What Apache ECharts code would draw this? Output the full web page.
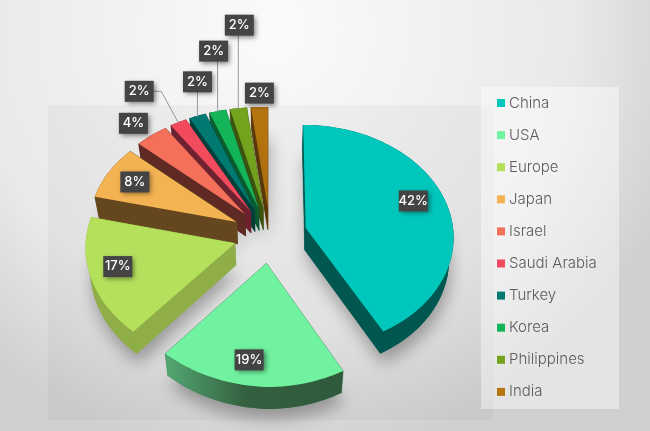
<!DOCTYPE html>
<html>
<head>
<meta charset="utf-8">
<style>
html, body { margin: 0; padding: 0; background: #e4e4e4; }
#main { width: 650px; height: 431px; }
</style>
<script src="https://cdn.jsdelivr.net/npm/echarts@6/dist/echarts.min.js"></script>
</head>
<body>
<div id="main"></div>
<script>
var categories = ['China', 'USA', 'Europe', 'Japan', 'Israel', 'Saudi Arabia', 'Turkey', 'Korea', 'Philippines', 'India'];
var shares = [42, 19, 17, 8, 4, 2, 2, 2, 2, 2];
var topColors = ['#00c7bb', '#70f2a0', '#b5e05c', '#f4b352', '#f4705a', '#f24b5d', '#007a70', '#14b558', '#74a31e', '#b5740f'];
var sideColors = ['#00574f', '#3b7a50', '#8fae48', '#65471f', '#5f2a24', '#6e2230', '#023f3a', '#0c5c30', '#3e5510', '#5e3c08'];
// label offset from the middle of each slice's outer arc
var labelShift = [[-32, 0], [-2, -26], [27, -11], [26, 10], [-18, -12], [-39, -31], [0, -34], [-4, -60], [1, -83], [0, -14]];
var leaderType = ['', '', '', '', '', 'elbow', 'up', 'up', 'up', ''];

var total = shares.reduce(function (a, b) { return a + b; }, 0);
var starts = [];
shares.reduce(function (acc, v, i) { starts[i] = acc; return acc + v; }, 0);

var cx = 270, cy = 235, rx = 148, ry = 112, tilt = 0.07, explode = 0.25, depth = 22;

function project(U, V) {
    var s = 1 + tilt * V;
    var x = cx + U * rx * s;
    // the left half of the pie leans up a little
    return [x, cy + V * ry * s + Math.min(0, x - cx) * 0.035];
}
function lower(p) {
    return [p[0] - (p[0] - cx) * 0.025, p[1] + depth];
}
// outer arc point of slice i at fraction t of its sweep, t = null gives the apex
function slicePoint(i, t) {
    var mid = (starts[i] + shares[i] / 2) / total * Math.PI * 2;
    var U = explode * Math.sin(mid), V = -explode * Math.cos(mid);
    if (t !== null) {
        var a = (starts[i] + shares[i] * t) / total * Math.PI * 2;
        U += Math.sin(a);
        V -= Math.cos(a);
    }
    return project(U, V);
}

function renderSlice(i) {
    return function () {
        var steps = Math.max(6, shares[i] * 2);
        var arc = [];
        for (var k = 0; k <= steps; k++) {
            arc.push(slicePoint(i, k / steps));
        }
        var apex = slicePoint(i, null);
        var top = [apex].concat(arc);
        var bottom = top.map(lower);
        var arcSide = arc.concat(arc.map(lower).reverse());
        var sideFill = sideColors[i];
        if (i === 1) {
            sideFill = new echarts.graphic.LinearGradient(0, 0, 1, 0, [
                { offset: 0, color: '#54a874' },
                { offset: 0.45, color: '#33603f' },
                { offset: 1, color: '#2f5a3b' }
            ]);
        }
        function quad(a, b) {
            return { type: 'polygon', silent: true, shape: { points: [a, b, lower(b), lower(a)] }, style: { fill: sideColors[i], stroke: sideColors[i], lineWidth: 0.5 } };
        }
        return {
            type: 'group',
            children: [
                { type: 'polygon', silent: true, shape: { points: bottom }, style: { fill: sideColors[i], shadowBlur: 16, shadowColor: 'rgba(0,0,0,0.3)', shadowOffsetX: 2, shadowOffsetY: 10 } },
                quad(apex, arc[0]),
                quad(apex, arc[arc.length - 1]),
                { type: 'polygon', silent: true, shape: { points: arcSide }, style: { fill: sideFill } },
                { type: 'polygon', silent: true, shape: { points: top }, style: { fill: topColors[i] } }
            ]
        };
    };
}

function renderLabel(params) {
    var i = params.dataIndex;
    var mid = slicePoint(i, 0.5);
    var x = mid[0] + labelShift[i][0], y = mid[1] + labelShift[i][1];
    var children = [];
    if (leaderType[i] === 'up') {
        children.push({ type: 'line', shape: { x1: mid[0], y1: mid[1] + 1, x2: mid[0], y2: y + 10 }, style: { stroke: '#9a9a9a', lineWidth: 1 } });
    } else if (leaderType[i] === 'elbow') {
        children.push({ type: 'polyline', shape: { points: [[x + 14, y], [x + 22, y], mid] }, style: { stroke: '#9a9a9a', lineWidth: 1, fill: 'none' } });
    }
    children.push({
        type: 'rect',
        shape: { x: x - 14.5, y: y - 10.5, width: 29, height: 21 },
        style: { fill: '#444444', shadowBlur: 5, shadowColor: 'rgba(0,0,0,0.5)', shadowOffsetX: 2, shadowOffsetY: 2 }
    });
    children.push({
        type: 'text',
        x: x,
        y: y,
        style: { text: shares[i] + '%', fill: '#ffffff', font: '500 13px Inter', align: 'center', verticalAlign: 'middle' }
    });
    return { type: 'group', silent: true, children: children };
}

var seriesList = categories.map(function (name, i) {
    return {
        type: 'custom',
        name: name,
        coordinateSystem: 'none',
        // nearer slices paint over the far ones
        z: i === 0 ? 3 : 14 - i,
        itemStyle: { color: topColors[i] },
        renderItem: renderSlice(i),
        data: [[shares[i]]]
    };
});
seriesList.push({
    type: 'custom',
    name: 'labels',
    coordinateSystem: 'none',
    z: 30,
    renderItem: renderLabel,
    data: shares.map(function (v) { return [v]; })
});

var chart = echarts.init(document.getElementById('main'), null, { renderer: 'canvas' });
chart.setOption({
    animation: false,
    backgroundColor: {
        type: 'radial',
        x: 0.42,
        y: 0.07,
        r: 1.0,
        colorStops: [
            { offset: 0, color: '#fbfbfb' },
            { offset: 0.7, color: '#e9e9e9' },
            { offset: 0.9, color: '#d8d8d8' },
            { offset: 1, color: '#d0d0d0' }
        ]
    },
    graphic: [
        { type: 'rect', z: 0, shape: { x: 48, y: 105, width: 445, height: 315 }, style: { fill: 'rgba(0,0,0,0.03)' } },
        { type: 'rect', z: 1, shape: { x: 481, y: 87, width: 138, height: 322 }, style: { fill: 'rgba(255,255,255,0.42)' } }
    ],
    legend: {
        data: categories,
        orient: 'vertical',
        left: 497,
        top: 93,
        padding: 0,
        icon: 'rect',
        itemWidth: 8,
        itemHeight: 8,
        itemGap: 12.1,
        selectedMode: false,
        textStyle: { color: '#5c5c5c', fontFamily: 'Inter', fontWeight: 300, fontSize: 15, lineHeight: 20, padding: [0, 0, 0, -1] }
    },
    series: seriesList
});
</script>
</body>
</html>
